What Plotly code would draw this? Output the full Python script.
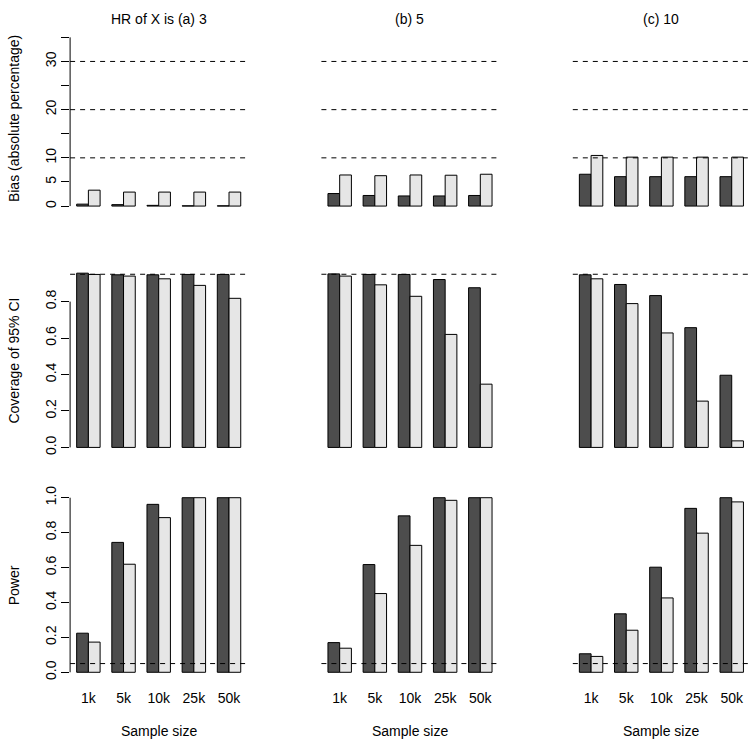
import plotly.graph_objects as go

# ---------------- data ----------------
sizes = ["1k", "5k", "10k", "25k", "50k"]
panel_titles = ["HR of X is (a) 3", "(b) 5", "(c) 10"]
row_titles = ["Bias (absolute percentage)", "Coverage of 95% CI", "Power"]

# one list per HR (3, 5, 10)
bias_dark = [[0.4, 0.3, 0.15, 0.05, 0.05],
             [2.6, 2.2, 2.1, 2.1, 2.2],
             [6.6, 6.1, 6.1, 6.1, 6.1]]
bias_light = [[3.3, 2.9, 2.9, 2.9, 2.9],
              [6.45, 6.3, 6.45, 6.4, 6.6],
              [10.5, 10.15, 10.15, 10.15, 10.15]]
cov_dark = [[0.956, 0.947, 0.947, 0.949, 0.949],
            [0.952, 0.949, 0.949, 0.921, 0.876],
            [0.947, 0.894, 0.833, 0.657, 0.396]]
cov_light = [[0.949, 0.940, 0.925, 0.889, 0.818],
             [0.940, 0.892, 0.829, 0.620, 0.347],
             [0.925, 0.789, 0.628, 0.254, 0.036]]
pow_dark = [[0.224, 0.744, 0.962, 1.0, 1.0],
            [0.170, 0.617, 0.896, 1.0, 1.0],
            [0.106, 0.335, 0.602, 0.939, 1.0]]
pow_light = [[0.173, 0.619, 0.886, 1.0, 1.0],
             [0.138, 0.451, 0.727, 0.985, 1.0],
             [0.091, 0.241, 0.426, 0.797, 0.976]]

bias_refs = [10, 20, 30]
cov_refs = [0.95]
pow_refs = [0.05]

bias_ticks = [0, 5, 10, 15, 20, 25, 30, 35]
bias_ticktext = ["0", "5", "10", "", "20", "", "30", ""]
cov_ticks = [0.0, 0.2, 0.4, 0.6, 0.8]
cov_ticktext = ["0.0", "0.2", "0.4", "0.6", "0.8"]
pow_ticks = [0.0, 0.2, 0.4, 0.6, 0.8, 1.0]
pow_ticktext = ["0.0", "0.2", "0.4", "0.6", "0.8", "1.0"]

# ---------------- styling / layout ----------------
W, H = 754, 747
FONT = "Liberation Sans, Arial, Helvetica, sans-serif"
FS = 14
DARK = "#4d4d4d"
LIGHT = "#e6e6e6"

col_left = [70.1, 321.4, 572.8]
plot_w = 177.2
# (pixel of y=0, pixels per unit, top px, bottom px)
row_geom = [(202.7, 4.86, 20, 210),
            (446.0, 183.75, 264, 453),
            (672.7, 176.0, 490, 680)]

rows = [
    (bias_dark, bias_light, bias_refs, bias_ticks, bias_ticktext),
    (cov_dark, cov_light, cov_refs, cov_ticks, cov_ticktext),
    (pow_dark, pow_light, pow_refs, pow_ticks, pow_ticktext),
]

n = len(sizes)
x_dark = [1.5 + 3 * i for i in range(n)]
x_light = [2.5 + 3 * i for i in range(n)]
x_center = [2.0 + 3 * i for i in range(n)]
xrange_ = [0.44, 15.56]

fig = go.Figure()
layout = dict(width=W, height=H, margin=dict(l=0, r=0, t=0, b=0),
              paper_bgcolor="white", plot_bgcolor="white",
              showlegend=False, font=dict(family=FONT, size=FS, color="black"),
              bargap=0, barmode="overlay")
shapes = []
annotations = []

for r, (dark, light, refs, ticks, ticktext) in enumerate(rows):
    y0, s, top, bot = row_geom[r]
    yr = [(y0 - bot) / s, (y0 - top) / s]
    for c in range(3):
        k = r * 3 + c + 1
        xa = "x" if k == 1 else f"x{k}"
        ya = "y" if k == 1 else f"y{k}"
        xkey = "xaxis" if k == 1 else f"xaxis{k}"
        ykey = "yaxis" if k == 1 else f"yaxis{k}"
        for xs, vals, col in ((x_dark, dark[c], DARK), (x_light, light[c], LIGHT)):
            fig.add_trace(go.Bar(x=xs, y=vals, width=[1] * n, base=0,
                                 marker=dict(color=col, line=dict(color="black", width=1)),
                                 xaxis=xa, yaxis=ya, hoverinfo="skip"))
        xd = [col_left[c] / W, (col_left[c] + plot_w) / W]
        yd = [1 - bot / H, 1 - top / H]
        xax = dict(domain=xd, range=xrange_, anchor=ya, showgrid=False,
                   zeroline=False, showline=False, fixedrange=True)
        if r == 2:
            xax.update(tickmode="array", tickvals=x_center, ticktext=sizes,
                       ticks="", showticklabels=True, ticklabelstandoff=8,
                       tickfont=dict(family=FONT, size=FS, color="black"))
        else:
            xax.update(showticklabels=False, ticks="")
        yax = dict(domain=yd, range=yr, anchor=xa, showgrid=False,
                   zeroline=False, showline=False, fixedrange=True)
        if c == 0:
            yax.update(tickmode="array", tickvals=ticks, ticktext=ticktext,
                       ticks="outside", ticklen=8, tickwidth=1, tickcolor="black",
                       tickangle=-90, ticklabelstandoff=0,
                       tickfont=dict(family=FONT, size=FS, color="black"))
            shapes.append(dict(type="line", xref=f"{xa} domain", yref=ya,
                               x0=0, x1=0, y0=ticks[0], y1=ticks[-1],
                               line=dict(color="black", width=1)))
        else:
            yax.update(showticklabels=False, ticks="")
        layout[xkey] = xax
        layout[ykey] = yax
        for v in refs:
            shapes.append(dict(type="line", xref=f"{xa} domain", yref=ya,
                               x0=0, x1=1, y0=v, y1=v, layer="above",
                               line=dict(color="black", width=1, dash="5px,5px")))
        if r == 0:
            annotations.append(dict(text=panel_titles[c], xref="paper", yref="paper",
                                    x=(col_left[c] + plot_w / 2) / W, y=1 - 14 / H,
                                    showarrow=False, xanchor="center", yanchor="middle",
                                    font=dict(family=FONT, size=FS, color="black")))
        if r == 2:
            annotations.append(dict(text="Sample size", xref="paper", yref="paper",
                                    x=(col_left[c] + plot_w / 2) / W, y=1 - 731.5 / H,
                                    showarrow=False, xanchor="center", yanchor="middle",
                                    font=dict(family=FONT, size=FS, color="black")))
    annotations.append(dict(text=row_titles[r], xref="paper", yref="paper",
                            x=14 / W, y=1 - (top + bot) / 2 / H, textangle=-90,
                            showarrow=False, xanchor="center", yanchor="middle",
                            font=dict(family=FONT, size=FS, color="black")))

layout["shapes"] = shapes
layout["annotations"] = annotations
fig.update_layout(**layout)
fig.write_html("out.html",
               config={"displayModeBar": False, "staticPlot": True},
               post_script="document.body.style.margin='0';"
                           "document.body.style.overflow='hidden';")
